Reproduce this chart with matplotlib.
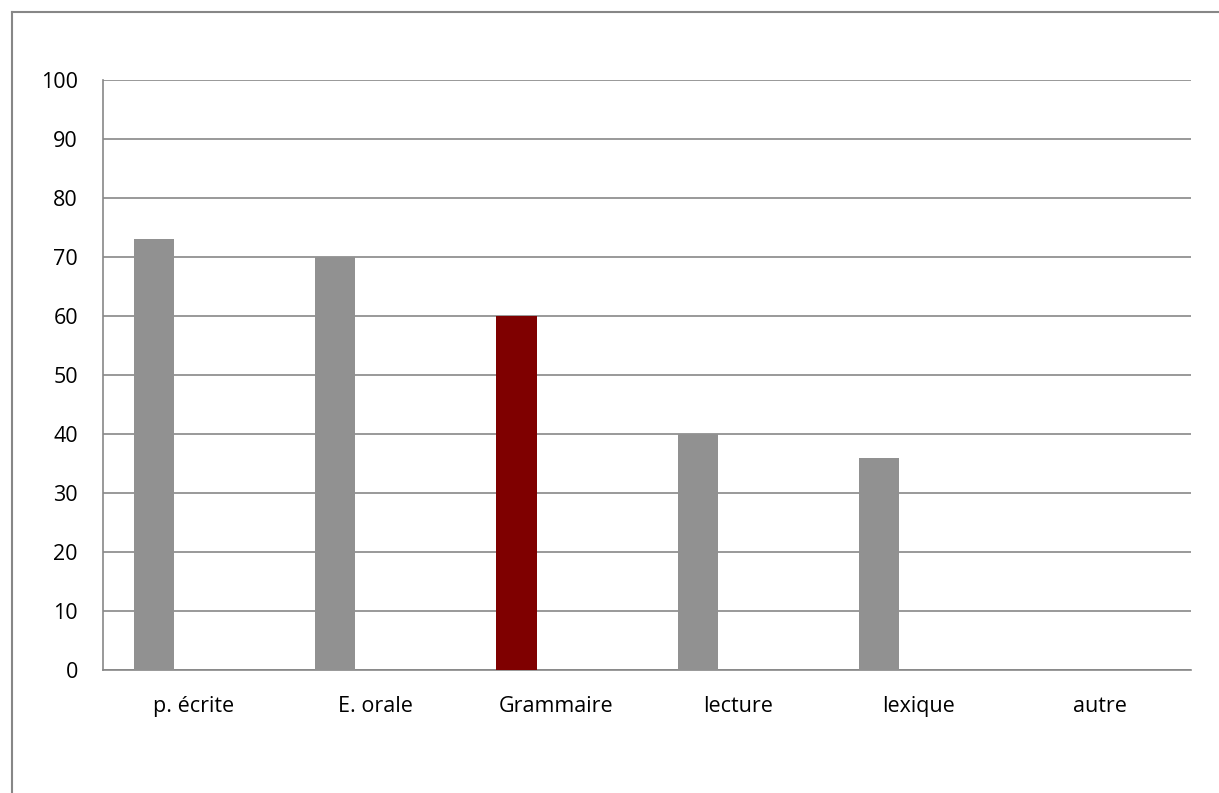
import matplotlib.pyplot as plt
from matplotlib.lines import Line2D

categories = ['p. écrite', 'E. orale', 'Grammaire', 'lecture', 'lexique', 'autre']
values = [73, 70, 60, 40, 36, 0]
colors = ['#919191', '#919191', '#7f0000', '#919191', '#919191', '#919191']
yticks = [0, 10, 20, 30, 40, 50, 60, 70, 80, 90, 100]

plt.rcParams['font.family'] = ['Open Sans', 'DejaVu Sans']

fig = plt.figure(figsize=(12.19, 7.93), dpi=100)
ax = fig.add_axes([103 / 1219, 1 - 670 / 793, (1191 - 103) / 1219, (670 - 80) / 793])

x = list(range(len(categories)))
ax.bar([i - 0.22 for i in x], values, width=0.222, color=colors, zorder=3)

ax.set_xlim(-0.5, len(categories) - 0.5)
ax.set_ylim(0, 100)
ax.set_yticks(yticks)
ax.set_xticks(x)
ax.set_xticklabels(categories)
ax.tick_params(axis='both', length=0, labelsize=15.5, colors='black')
ax.tick_params(axis='y', pad=18)
ax.tick_params(axis='x', pad=19)
ax.grid(axis='y', color='#878787', linewidth=1.2, zorder=0)
for s in ['top', 'right']:
    ax.spines[s].set_visible(False)
for s in ['left', 'bottom']:
    ax.spines[s].set_color('#878787')
    ax.spines[s].set_linewidth(1.2)

# outer chart border (bottom and right cut off)
bx = 11.5 / 1219
by = 1 - 11.5 / 793
fig.add_artist(Line2D([bx, bx], [0, by], color='#878787', linewidth=1.5))
fig.add_artist(Line2D([bx, 1], [by, by], color='#878787', linewidth=1.5))

fig.savefig('out.png', dpi=100)
plt.close()
